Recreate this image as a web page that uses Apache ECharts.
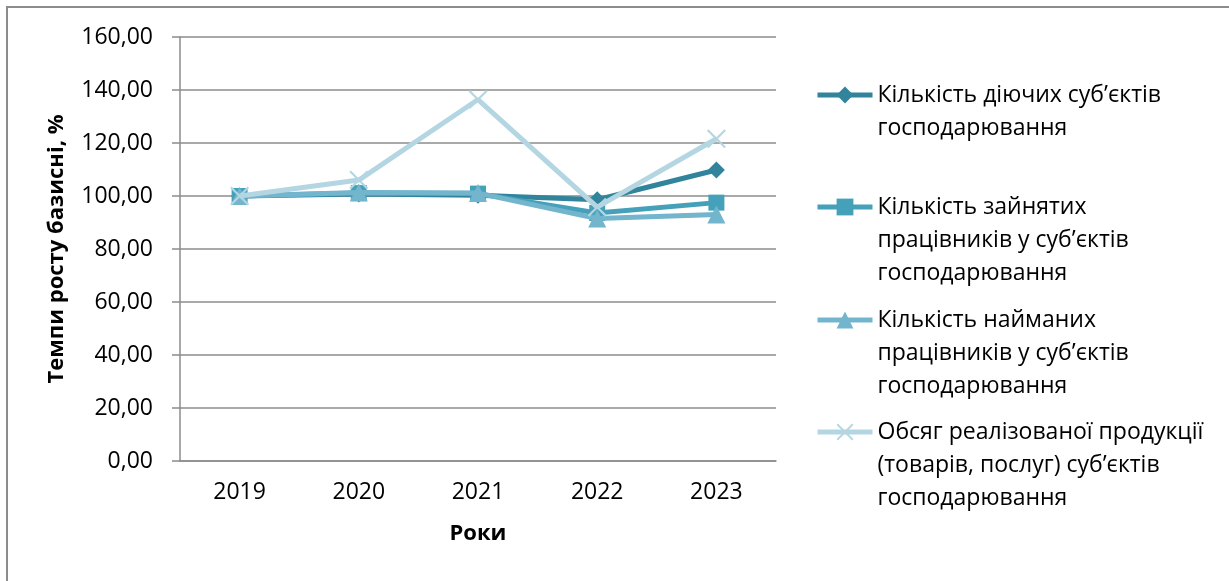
<!DOCTYPE html>
<html>
<head>
<meta charset="utf-8">
<script src="https://cdn.jsdelivr.net/npm/echarts@6/dist/echarts.min.js"></script>
<style>
  html, body { margin: 0; padding: 0; background: #fff; }
  #chart { width: 1229px; height: 581px; }
</style>
</head>
<body>
<div id="chart"></div>
<script>
const years = ['2019', '2020', '2021', '2022', '2023'];
const seriesNames = [
    'Кількість діючих суб’єктів\nгосподарювання',
    'Кількість зайнятих\nпрацівників у суб’єктів\nгосподарювання',
    'Кількість найманих\nпрацівників у суб’єктів\nгосподарювання',
    'Обсяг реалізованої продукції\n(товарів, послуг) суб’єктів\nгосподарювання'
];
const activeEntities = [100, 100.8, 100.3, 98.6, 109.8];
const employed = [100, 101.1, 100.9, 93.6, 97.5];
const hired = [100, 101.3, 101.1, 91.5, 93.0];
const salesVolume = [100, 106.0, 136.4, 95.8, 121.6];

const colors = ['#31849b', '#45a1b9', '#72b5cc', '#b4d6e2'];
const symbols = ['diamond', 'rect', 'triangle',
    'path://M1.6,0L10,8.4L18.4,0L20,1.6L11.6,10L20,18.4L18.4,20L10,11.6L1.6,20L0,18.4L8.4,10L0,1.6Z'];
const symbolSizes = [17, 16, 18, 19];
const allData = [activeEntities, employed, hired, salesVolume];

const font = '"Open Sans", sans-serif';
const lineH = 33;
// icon centre of each legend entry (level with the first text line)
const legendIconY = [95, 207, 320, 432];

const chart = echarts.init(document.getElementById('chart'));

// the legend centres text on the icon, so pad each name with empty lines on top
const legends = seriesNames.map(function (name, i) {
    const n = name.split('\n').length;
    return {
        orient: 'vertical',
        left: 815,
        top: legendIconY[i] - (2 * n - 1) * lineH / 2,
        padding: 0,
        itemWidth: 55,
        itemHeight: 21,
        itemGap: 0,
        data: [name],
        formatter: function (nm) { return '\n'.repeat(n - 1) + nm; },
        lineStyle: {width: 5},
        textStyle: {fontFamily: font, fontSize: 23, color: '#000', lineHeight: lineH},
        selectedMode: false
    };
});

const option = {
    backgroundColor: '#fff',
    animation: false,
    color: colors,
    graphic: [{
        type: 'rect',
        shape: {x: 7, y: 7, width: 1400, height: 800},
        style: {fill: 'none', stroke: '#8c8c8c', lineWidth: 2},
        silent: true
    }],
    legend: legends,
    grid: {left: 180, right: 453, top: 37, bottom: 120, containLabel: false},
    xAxis: {
        type: 'category',
        data: years,
        boundaryGap: true,
        name: 'Роки',
        nameLocation: 'middle',
        nameGap: 62,
        nameTextStyle: {fontFamily: font, fontSize: 22, fontWeight: 'bold', color: '#000'},
        axisLine: {lineStyle: {color: '#8c8c8c', width: 1.5}},
        axisTick: {show: false},
        axisLabel: {fontFamily: font, fontSize: 23, color: '#000', margin: 20}
    },
    yAxis: {
        type: 'value',
        min: 0,
        max: 160,
        interval: 20,
        name: 'Темпи росту базисні, %',
        nameLocation: 'middle',
        nameGap: 112,
        nameTextStyle: {fontFamily: font, fontSize: 22, fontWeight: 'bold', color: '#000'},
        axisLine: {show: true, lineStyle: {color: '#8c8c8c', width: 1.5}},
        axisTick: {show: true, length: 8, lineStyle: {color: '#8c8c8c', width: 1.5}},
        splitLine: {lineStyle: {color: '#8c8c8c', width: 1.5}},
        axisLabel: {
            fontFamily: font, fontSize: 23, color: '#000', margin: 27,
            formatter: function (v) { return v.toFixed(2).replace('.', ','); }
        }
    },
    series: allData.map(function (d, i) {
        return {
            name: seriesNames[i],
            type: 'line',
            data: d,
            symbol: symbols[i],
            symbolSize: symbolSizes[i],
            showAllSymbol: true,
            lineStyle: {width: 5, color: colors[i]},
            itemStyle: {color: colors[i]},
            z: 2 + i
        };
    })
};

chart.setOption(option);
</script>
</body>
</html>
